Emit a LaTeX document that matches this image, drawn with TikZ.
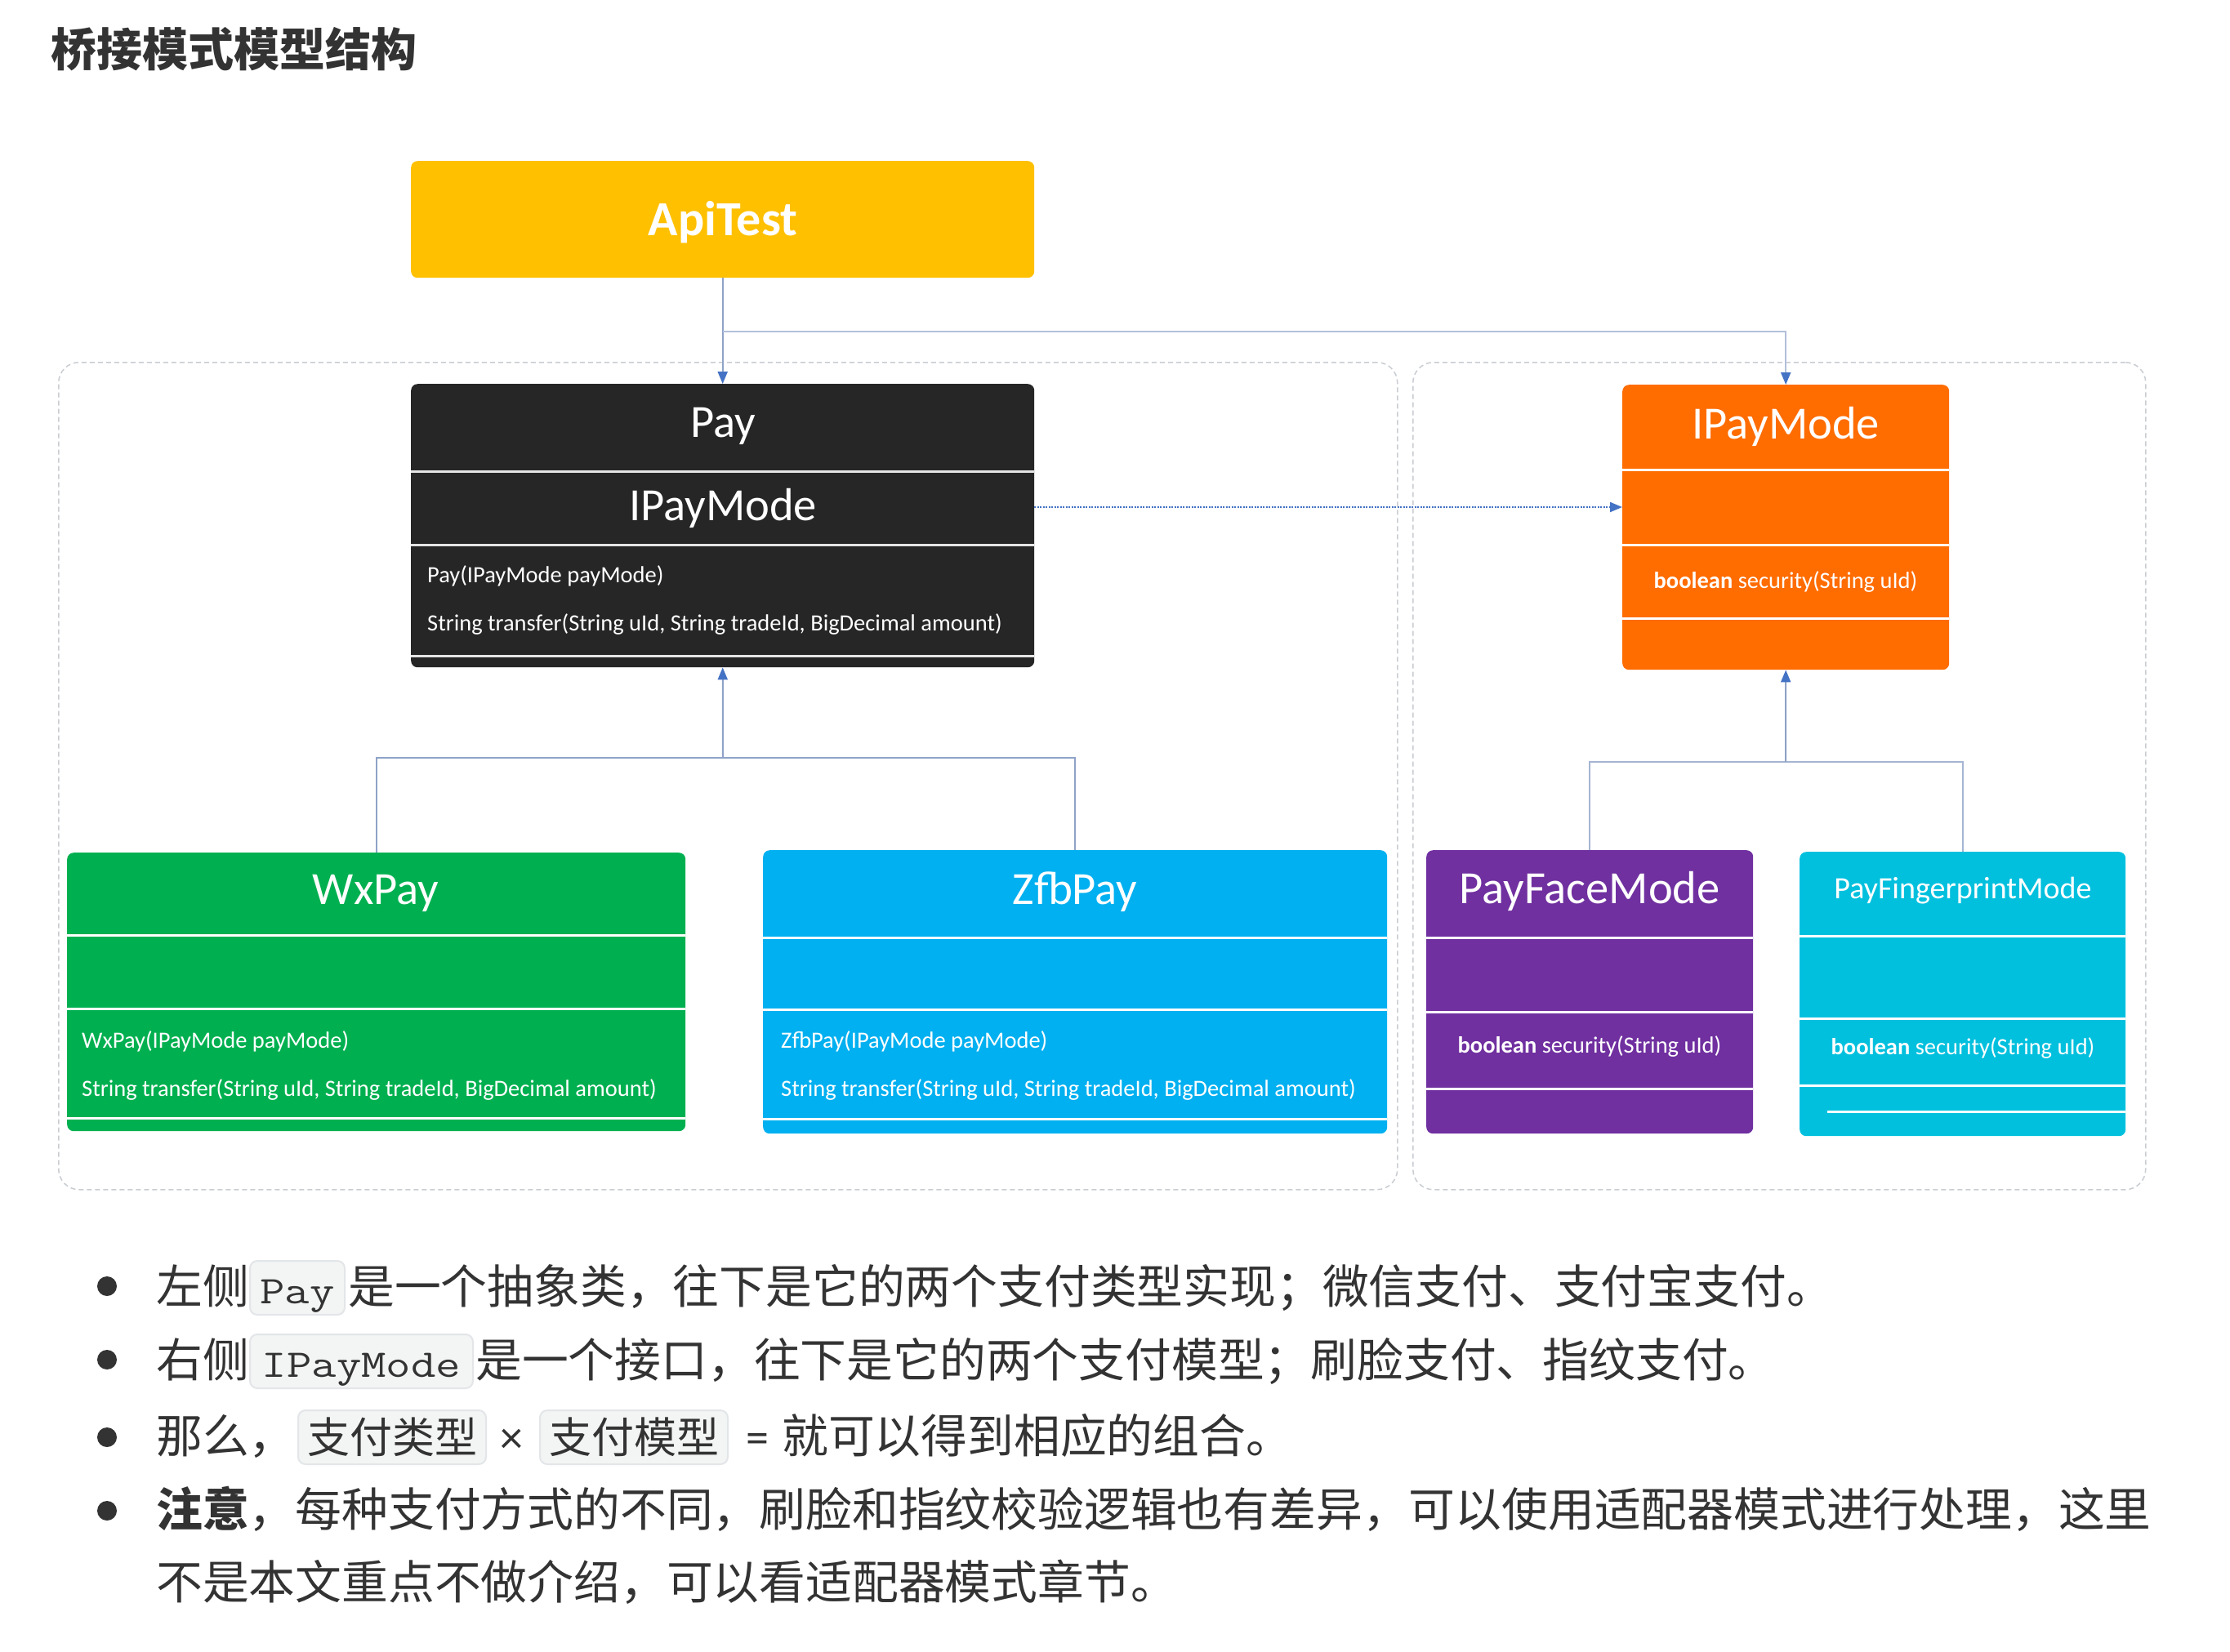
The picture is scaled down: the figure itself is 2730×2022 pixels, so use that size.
\documentclass[tikz,border=0pt]{standalone}
\usepackage{fontspec}
\setmainfont{Carlito}
\newfontfamily\cjk{Noto Sans CJK SC}
\usetikzlibrary{arrows.meta}
\definecolor{apiyellow}{HTML}{FFC000}
\definecolor{paydark}{HTML}{262626}
\definecolor{modeorange}{HTML}{FF6C00}
\definecolor{wxgreen}{HTML}{00B050}
\definecolor{zfbblue}{HTML}{00B0F0}
\definecolor{facepurple}{HTML}{7030A0}
\definecolor{fingercyan}{HTML}{00C0DE}
\definecolor{linkblue}{HTML}{4472C4}
\definecolor{linegray}{HTML}{8FA3C8}
\definecolor{framegray}{HTML}{C9CDD2}
\definecolor{txt}{HTML}{333333}
\definecolor{codebg}{HTML}{F3F4F4}
\definecolor{codeborder}{HTML}{E3E6E8}
\newcommand\codett[1]{\scalebox{1.23}[1]{\ttfamily\fontsize{48}{56}\selectfont #1}}
\newcommand\codecjk{\cjk\fontsize{52}{58}\selectfont}
\begin{document}
\begin{tikzpicture}[x=1pt,y=-1pt,
  umlbox/.style={draw=none, rounded corners=8pt, inner sep=0pt, anchor=north west},
  groupbox/.style={draw=framegray, dash pattern=on 6pt off 4pt, line width=1.5pt, rounded corners=25pt, inner sep=0pt, anchor=north west},
  divider/.style={white, line width=3pt},
  head/.style={text=white, font=\fontsize{56.5}{62}\selectfont, anchor=base, inner sep=0pt},
  meth/.style={text=white, font=\fontsize{28.5}{32}\selectfont, anchor=base west, inner sep=0pt},
  methc/.style={text=white, font=\fontsize{28.5}{32}\selectfont, anchor=base, inner sep=0pt},
  conn/.style={linegray, line width=2pt},
  dotconn/.style={linkblue, line width=2pt, dash pattern=on 2pt off 1.5pt},
  tipblue/.style={-{Triangle[length=15pt,width=12pt,color=linkblue]}},
  para/.style={text=txt, font=\cjk\fontsize{56.8}{64}\selectfont, anchor=base west, inner sep=0pt},
  latin/.style={text=txt, font=\fontsize{56}{64}\selectfont, inner sep=0pt},
  codebox/.style={fill=codebg, draw=codeborder, line width=2pt, rounded corners=9pt, text=txt, anchor=base west, inner xsep=0pt, inner ysep=4pt, text height=48pt, text depth=10pt},
  bulletdot/.style={circle, fill=txt, minimum size=24pt, inner sep=0pt}
]
\useasboundingbox (0,0) rectangle (2730,2022);
\fill[white] (0,0) rectangle (2730,2022);

% title
\node[text=txt, font=\cjk\bfseries\fontsize{56}{64}\selectfont, anchor=base west, inner sep=0pt] (title) at (62,81) {桥接模式模型结构};

% group frames
\node[groupbox, minimum width=1639pt, minimum height=1013pt] (leftgrp) at (71,443) {};
\node[groupbox, minimum width=897pt, minimum height=1013pt] (rightgrp) at (1729,443) {};

% ApiTest
\node[umlbox, fill=apiyellow, minimum width=763pt, minimum height=143pt] (apitest) at (503,197) {};
\node[head, font=\bfseries\fontsize{60}{66}\selectfont] (apitestname) at (885,288) {ApiTest};

% Pay
\node[umlbox, fill=paydark, minimum width=763pt, minimum height=347pt] (pay) at (503,470) {};
\draw[divider, color=white!90!black] (503,577) -- (1266,577);
\draw[divider, color=white!90!black] (503,667) -- (1266,667);
\draw[divider, color=white!90!black] (503,803) -- (1266,803);
\node[head] (payname) at (885,535) {Pay};
\node[head] (payfield) at (885,637) {IPayMode};
\node[meth] (paym1) at (523,713) {Pay(IPayMode payMode)};
\node[meth] (paym2) at (523,772) {String transfer(String uId, String tradeId, BigDecimal amount)};

% IPayMode
\node[umlbox, fill=modeorange, minimum width=400pt, minimum height=349pt] (ipay) at (1986,471) {};
\draw[divider] (1986,575) -- (2386,575);
\draw[divider] (1986,667) -- (2386,667);
\draw[divider] (1986,757) -- (2386,757);
\node[head] (ipayname) at (2186,537) {IPayMode};
\node[methc] (ipaym1) at (2186,720) {\textbf{boolean} security(String uId)};

% WxPay
\node[umlbox, fill=wxgreen, minimum width=757pt, minimum height=341pt] (wxpay) at (82,1044) {};
\draw[divider] (82,1145) -- (839,1145);
\draw[divider] (82,1235) -- (839,1235);
\draw[divider] (82,1369) -- (839,1369);
\node[head] (wxname) at (460,1107) {WxPay};
\node[meth] (wxm1) at (100,1283) {WxPay(IPayMode payMode)};
\node[meth] (wxm2) at (100,1342) {String transfer(String uId, String tradeId, BigDecimal amount)};

% ZfbPay
\node[umlbox, fill=zfbblue, minimum width=764pt, minimum height=347pt] (zfbpay) at (934,1041) {};
\draw[divider] (934,1148) -- (1698,1148);
\draw[divider] (934,1236) -- (1698,1236);
\draw[divider] (934,1370) -- (1698,1370);
\node[head] (zfbname) at (1316,1107) {ZfbPay};
\node[meth] (zfbm1) at (956,1283) {ZfbPay(IPayMode payMode)};
\node[meth] (zfbm2) at (956,1342) {String transfer(String uId, String tradeId, BigDecimal amount)};

% PayFaceMode
\node[umlbox, fill=facepurple, minimum width=400pt, minimum height=347pt] (face) at (1746,1041) {};
\draw[divider] (1746,1148) -- (2146,1148);
\draw[divider] (1746,1239) -- (2146,1239);
\draw[divider] (1746,1333) -- (2146,1333);
\node[head] (facename) at (1946,1106) {PayFaceMode};
\node[methc] (facem1) at (1946,1289) {\textbf{boolean} security(String uId)};

% PayFingerprintMode
\node[umlbox, fill=fingercyan, minimum width=399pt, minimum height=348pt] (finger) at (2203,1043) {};
\draw[divider] (2203,1146) -- (2602,1146);
\draw[divider] (2203,1247) -- (2602,1247);
\draw[divider] (2203,1329) -- (2602,1329);
\draw[divider] (2237,1361) -- (2602,1361);
\node[head, font=\fontsize{38}{42}\selectfont] (fingername) at (2403,1100) {PayFingerprintMode};
\node[methc] (fingerm1) at (2403,1291) {\textbf{boolean} security(String uId)};

% connectors
\coordinate (jt) at (885,406);
\coordinate (jl) at (885,928);
\coordinate (jr) at (2186,933);
\coordinate (pm) at (1266,621);
\draw[conn, tipblue] (apitest.south) -- (pay.north);
\draw[conn, color=linegray!70, tipblue] (jt) -| (ipay.north);
\draw[dotconn, tipblue] (pm) -- (pm -| ipay.west);
\draw[conn] (wxpay.north) |- (jl);
\draw[conn] (zfbpay.north) |- (jl);
\draw[conn, tipblue] (jl) -- (pay.south);
\draw[conn, color=linegray!80] (face.north) |- (jr);
\draw[conn, color=linegray!80] (finger.north) |- (jr);
\draw[conn, tipblue] (jr) -- (ipay.south);

% bullet list
\node[bulletdot] (d1) at (131,1575) {};
\node[bulletdot] (d2) at (131,1665) {};
\node[bulletdot] (d3) at (131,1760) {};
\node[bulletdot] (d4) at (131,1850) {};

\node[para] (l1a) at (191,1596) {左侧};
\node[codebox, minimum width=116pt] (c1) at (305,1596) {\codett{Pay}};
\node[para] (l1b) at (426,1596) {是一个抽象类，往下是它的两个支付类型实现；微信支付、支付宝支付。};

\node[para] (l2a) at (191,1686) {右侧};
\node[codebox, minimum width=273pt] (c2) at (305,1686) {\codett{IPayMode}};
\node[para] (l2b) at (582,1686) {是一个接口，往下是它的两个支付模型；刷脸支付、指纹支付。};

\node[para] (l3a) at (191,1779) {那么，};
\node[codebox, minimum width=230pt] (c3) at (364,1779) {\codecjk 支付类型};
\node[latin, anchor=base] (l3x) at (626,1779) {×};
\node[codebox, minimum width=230pt] (c4) at (660,1779) {\codecjk 支付模型};
\node[latin, anchor=base west] (l3eq) at (913,1779) {=};
\node[para] (l3b) at (957,1779) {就可以得到相应的组合。};

\node[para] (l4) at (191,1869) {{\bfseries 注意}，每种支付方式的不同，刷脸和指纹校验逻辑也有差异，可以使用适配器模式进行处理，这里};
\node[para] (l5) at (191,1958) {不是本文重点不做介绍，可以看适配器模式章节。};
\end{tikzpicture}
\end{document}
